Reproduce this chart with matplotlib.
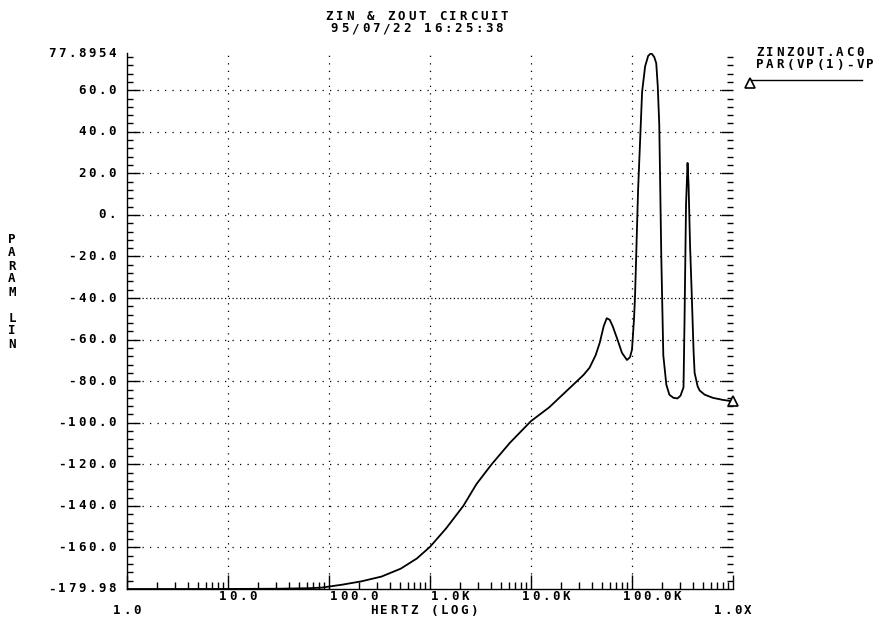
import matplotlib
matplotlib.use("Agg")
import matplotlib.pyplot as plt
from matplotlib.ticker import FixedLocator, NullFormatter, MultipleLocator, LogLocator
from matplotlib.transforms import ScaledTranslation, blended_transform_factory

# ---- data -------------------------------------------------------------
freq_hz = [1, 3.16, 10, 31.6, 63, 85, 135, 209, 331, 513, 741, 1000, 1445,
           2138, 2884, 4074, 6166, 10000, 15136, 19055, 26303, 33113, 38019,
           43652, 47863, 52481, 56234, 60256, 64565, 72444, 79433, 89125,
           95499, 100000, 104713, 107152, 114815, 125893, 134896, 144544,
           154882, 165959, 173780, 179887, 186209, 194984, 204174, 218776,
           234423, 257040, 281838, 301995, 323594, 331131, 342768, 354813,
           363078, 375837, 389045, 407380, 416869, 446684, 467735, 524807,
           630957, 794328, 1000000]
param = [-179.98, -179.98, -179.96, -179.85, -179.6, -179.3, -177.9, -176.3,
         -174.0, -170.2, -165.3, -159.7, -150.8, -140.0, -129.5, -120.0,
         -109.7, -99.2, -92.6, -88.0, -81.6, -77.0, -73.5, -67.5, -61.6,
         -53.5, -49.7, -50.5, -53.7, -60.5, -66.3, -69.8, -68.5, -64.8,
         -50.0, -39.2, 11.6, 59.2, 71.5, 76.5, 77.8954, 76.0, 73.0, 62.0,
         43.3, -20.0, -67.6, -81.7, -86.5, -88.0, -88.3, -87.0, -83.0, -51.0,
         5.0, 25.0, 14.8, -15.0, -36.0, -66.0, -76.0, -82.5, -84.5, -86.5,
         -88.0, -89.0, -89.7]

y_min, y_max = -179.98, 77.8954
y_grid = [60, 40, 20, 0, -20, -40, -60, -80, -100, -120, -140, -160]
y_tick_text = ["60.0", "40.0", "20.0", "0.", "-20.0", "-40.0", "-60.0",
               "-80.0", "-100.0", "-120.0", "-140.0", "-160.0"]
x_decades = [1, 10, 100, 1e3, 1e4, 1e5, 1e6]
x_tick_text = ["1.0", "10.0", "100.0", "1.0K", "10.0K", "100.0K", "1.0X"]

title_lines = ["ZIN & ZOUT CIRCUIT", "95/07/22 16:25:38"]
legend_lines = ["ZINZOUT.AC0", "PAR(VP(1)-VP"]
x_label = "HERTZ (LOG)"
y_label = "PARAM LIN"

# ---- figure ------------------------------------------------------------
W, H, DPI = 880, 621, 100
fig = plt.figure(figsize=(W / DPI, H / DPI), dpi=DPI)
L, R, T, B = 127, 733, 53, 589
ax = fig.add_axes([L / W, 1 - B / H, (R - L) / W, (B - T) / H])
ax.set_xscale("log")
ax.set_xlim(x_decades[0], x_decades[-1])
ax.set_ylim(y_min, y_max)

FS = 9
FONT = dict(family="DejaVu Sans Mono", fontsize=FS, fontweight="bold",
            color="black")


def spaced_text(x, y, s, transform, pitch=10.0, ha="left", dx=0.0, dy=0.0):
    """Plotter-style text: each character on a fixed pitch (pixels)."""
    width = pitch * len(s)
    start = {"left": 0.0, "center": -width / 2, "right": -width}[ha] + dx
    for i, ch in enumerate(s):
        if ch == " ":
            continue
        off = ScaledTranslation((start + pitch * (i + 0.5)) / DPI, dy / DPI,
                                fig.dpi_scale_trans)
        fig.text(x, y, ch, transform=transform + off, ha="center",
                 va="center", **FONT)


# grid: dotted lines at each labelled level and each decade
for v in y_grid:
    dots = (0, (1, 2)) if v == -40 else (0, (1, 5))
    ax.axhline(v, color="black", lw=0.9, ls=dots, zorder=1)
for f in x_decades[1:-1]:
    ax.axvline(f, color="black", lw=0.9, ls=(0, (1, 5)), zorder=1)

# curve
ax.plot(freq_hz, param, color="black", lw=1.3, zorder=3)
ax.plot([freq_hz[-1]], [param[-1]], marker="^", ms=7, mfc="white",
        mec="black", mew=1.2, clip_on=False, zorder=4)

# frame: open top, ticks on left / right / bottom pointing inward
ax.spines["top"].set_visible(False)
ax.spines["right"].set_visible(False)
for s in ("left", "bottom"):
    ax.spines[s].set_linewidth(1.0)
ax.yaxis.set_major_locator(FixedLocator(y_grid))
ax.yaxis.set_minor_locator(MultipleLocator(4))
ax.xaxis.set_major_locator(FixedLocator(x_decades))
ax.xaxis.set_minor_locator(LogLocator(base=10, subs=range(2, 10), numticks=20))
ax.xaxis.set_major_formatter(NullFormatter())
ax.xaxis.set_minor_formatter(NullFormatter())
ax.yaxis.set_major_formatter(NullFormatter())
ax.tick_params(axis="y", which="both", direction="in", left=True, right=True,
               width=1.0)
ax.tick_params(axis="y", which="major", length=9)
ax.tick_params(axis="y", which="minor", length=4)
ax.tick_params(axis="x", which="both", direction="in", bottom=True, top=False,
               width=1.0)
ax.tick_params(axis="x", which="major", length=10)
ax.tick_params(axis="x", which="minor", length=5)

# y tick labels
ytr = blended_transform_factory(ax.transAxes, ax.transData)
for v, s in zip(y_grid, y_tick_text):
    spaced_text(0, v, s, ytr, ha="right", dx=-10)
spaced_text(0, y_max, "77.8954", ytr, ha="right", dx=-10)
spaced_text(0, y_min, "-179.98", ytr, ha="right", dx=-10)

# x tick labels: inner decades on the first row, the two ends one row lower
xtr = blended_transform_factory(ax.transData, ax.transAxes)
label_shift = [-10, 0, 0, -10, -10]
for f, s, d in zip(x_decades[1:-1], x_tick_text[1:-1], label_shift):
    spaced_text(f, 0, s, xtr, ha="left", dx=d, dy=-8)
spaced_text(x_decades[0], 0, x_tick_text[0], xtr, ha="center", dy=-22)
spaced_text(x_decades[-1], 0, x_tick_text[-1], xtr, ha="center", dy=-22)

# axis titles
ctr = blended_transform_factory(ax.transAxes, ax.transAxes)
spaced_text(0.5, 0, x_label, ctr, ha="center", dx=-6, dy=-22)
for i, ch in enumerate(y_label):
    if ch != " ":
        fig.text(12 / W, 1 - (240 + 13 * i) / H, ch, ha="center",
                 va="center", **FONT)

# header
fig_px = blended_transform_factory(fig.transFigure, fig.transFigure)
spaced_text(417 / W, 1 - 16 / H, title_lines[0], fig_px, ha="center",
            pitch=10.3)
spaced_text(417 / W, 1 - 29 / H, title_lines[1], fig_px, ha="center",
            pitch=10.3)

# legend block at upper right
spaced_text(755 / W, 1 - 52 / H, legend_lines[0], fig_px, ha="left")
spaced_text(755 / W, 1 - 65 / H, legend_lines[1], fig_px, ha="left")
fig.add_artist(plt.Line2D([750 / W, 862 / W], [1 - 80 / H, 1 - 80 / H],
                          color="black", lw=1.0))
fig.add_artist(plt.Line2D([750 / W], [1 - 83 / H], marker="^", ms=7,
                          mfc="white", mec="black", mew=1.2))

fig.savefig("out.png", dpi=DPI, facecolor="white")
